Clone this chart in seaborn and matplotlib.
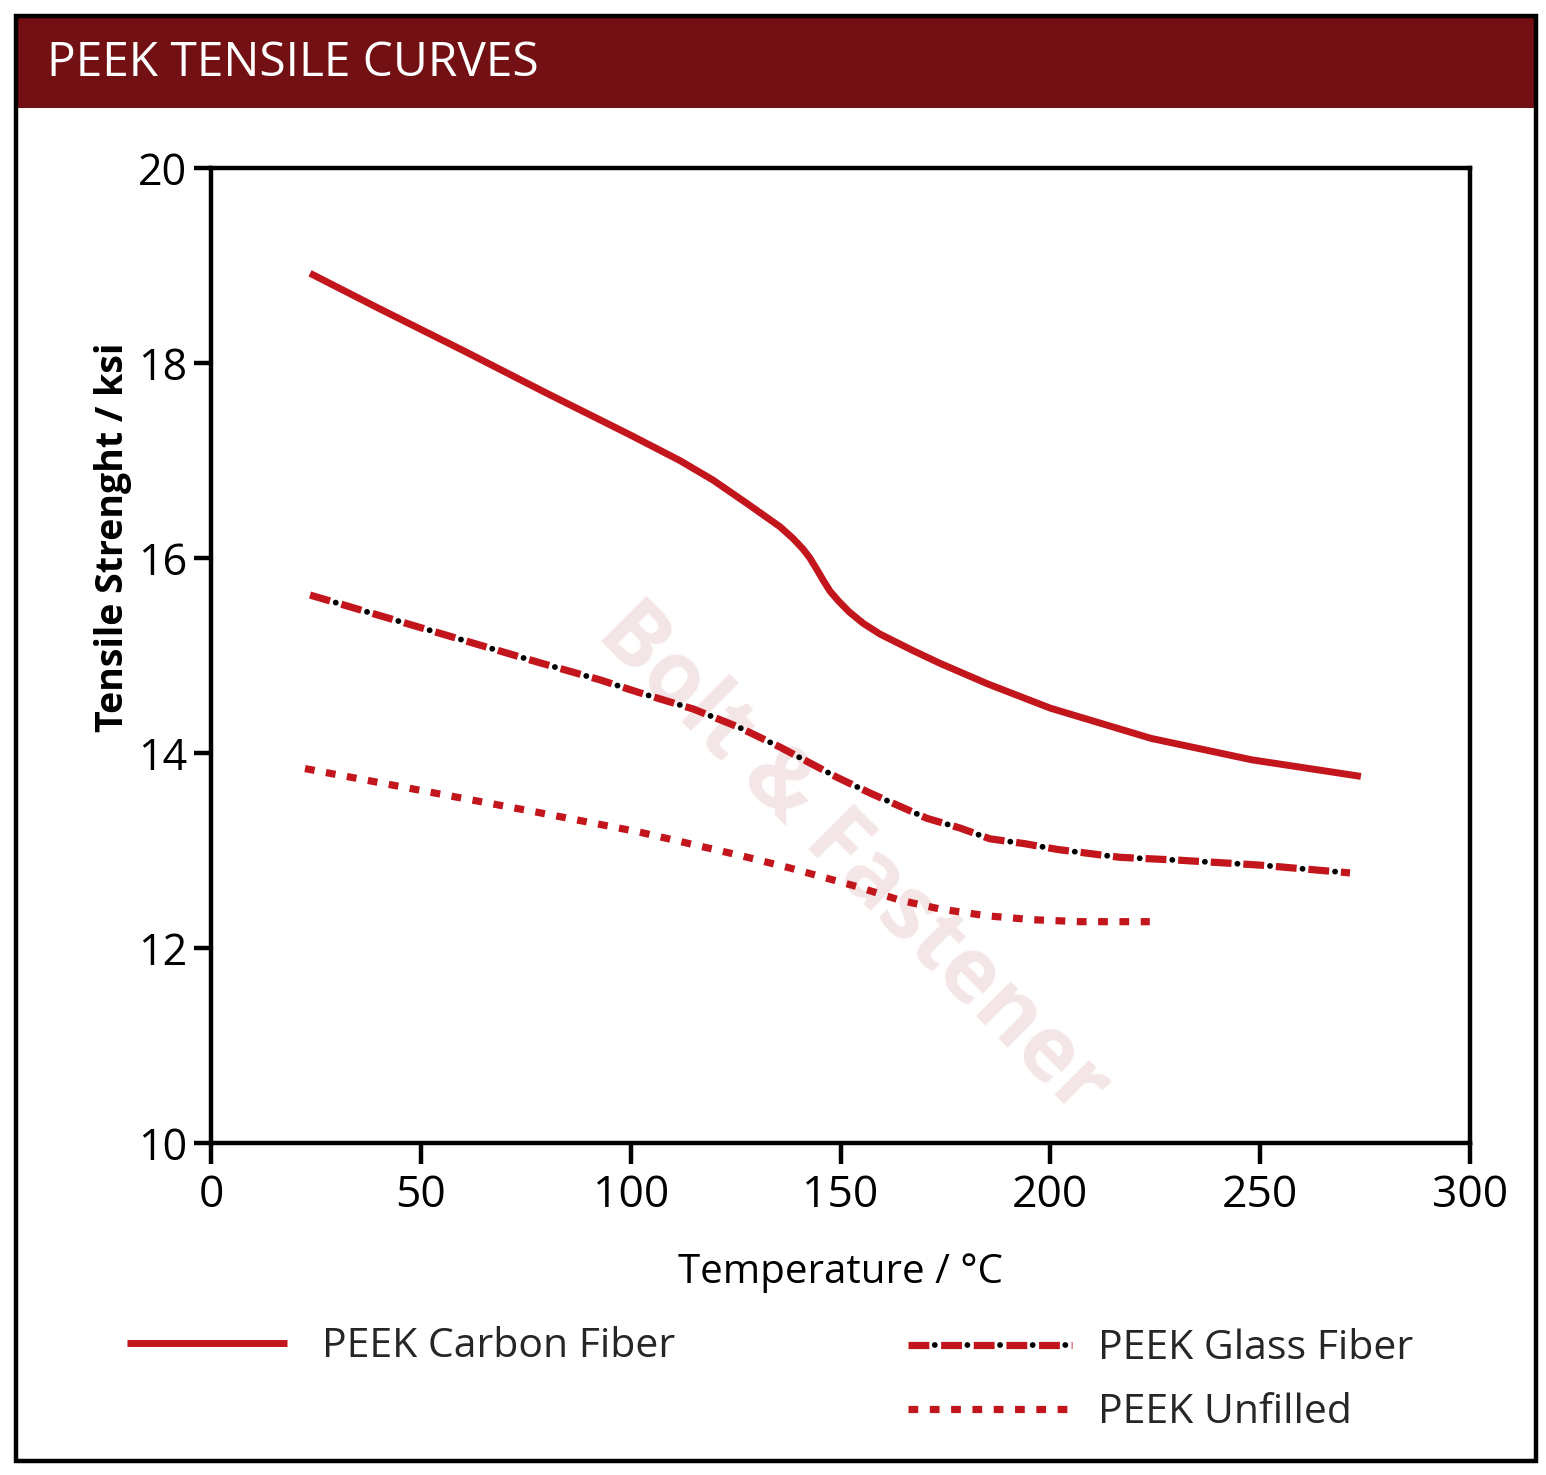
import matplotlib
matplotlib.use("Agg")
import matplotlib.pyplot as plt
from matplotlib.lines import Line2D
from matplotlib.patches import Rectangle
import seaborn as sns
import pandas as pd

# ---------------- data ----------------
temp_carbon = [23.6, 40, 60, 80, 100, 111.7, 119.6, 127.7, 135.6, 138.7, 141.1, 142.7,
               144.4, 145.9, 147.5, 149.5, 152.0, 155.4, 159.4, 167.3, 173.7, 185, 200,
               224, 248, 274]
ksi_carbon = [18.92, 18.56, 18.13, 17.69, 17.26, 17.00, 16.80, 16.56, 16.32, 16.20, 16.09, 16.00,
              15.88, 15.77, 15.66, 15.56, 15.45, 15.33, 15.22, 15.05, 14.92, 14.71, 14.46,
              14.15, 13.93, 13.76]

temp_glass = [23.6, 52, 78, 92.7, 102, 115, 126, 135.6, 149.2, 157.0, 170.6, 178.5,
              185.6, 193.9, 201.8, 216.6, 230.9, 250, 271.4]
ksi_glass = [15.62, 15.26, 14.93, 14.75, 14.62, 14.45, 14.26, 14.06, 13.75, 13.59, 13.33, 13.23,
             13.12, 13.07, 13.01, 12.93, 12.90, 12.85, 12.77]

temp_unfilled = [22.4, 52, 78, 102, 126, 138.0, 153.9, 164.2, 173.7, 184.9, 195.9, 207.1, 223.7]
ksi_unfilled = [13.84, 13.60, 13.39, 13.19, 12.95, 12.82, 12.63, 12.49, 12.40, 12.33, 12.29, 12.27, 12.27]

series_labels = ["PEEK Carbon Fiber", "PEEK Glass Fiber", "PEEK Unfilled"]
x_ticks = [0, 50, 100, 150, 200, 250, 300]
y_ticks = [10, 12, 14, 16, 18, 20]
title_text = "PEEK TENSILE CURVES"
x_label = "Temperature / \u00b0C"
y_label = "Tensile Strenght / ksi"
watermark = "Bolt & Fastener"

# ---------------- style ----------------
sns.set_theme(style="white")
plt.rcParams["font.family"] = ["Open Sans", "DejaVu Sans"]

RED = "#c3161c"
W, H = 1546, 1475
fig = plt.figure(figsize=(W / 100, H / 100), dpi=100)
fig.patch.set_facecolor("white")

def fx(px):
    return px / W

def fy(py):
    return 1 - py / H

# frame and header band
fig.patches.append(Rectangle((fx(16), fy(1461)), fx(1536) - fx(16), fy(16) - fy(1461),
                             transform=fig.transFigure, fill=False, ec="black", lw=3.2, zorder=5))
fig.patches.append(Rectangle((fx(17), fy(108)), fx(1535) - fx(17), fy(17) - fy(108),
                             transform=fig.transFigure, fc="#731013", ec="none", zorder=4))
fig.text(fx(47), fy(63), title_text, color="white", fontsize=34.5, va="center", ha="left", zorder=6)

ax = fig.add_axes([fx(211), fy(1143), fx(1470) - fx(211), fy(168) - fy(1143)])

df_c = pd.DataFrame({"t": temp_carbon, "v": ksi_carbon})
df_g = pd.DataFrame({"t": temp_glass, "v": ksi_glass})
df_u = pd.DataFrame({"t": temp_unfilled, "v": ksi_unfilled})

LW_RED = 5.2
LW_DOT = 4.2
DASH_ON, DASH_OFF = 15.0, 8.5
PERIOD = DASH_ON + DASH_OFF
dash_red = (0, (DASH_ON / LW_RED, DASH_OFF / LW_RED))
dot_black = ((PERIOD - (DASH_ON + DASH_OFF / 2)) / LW_DOT, (0.01, PERIOD / LW_DOT - 0.01))
dot_red = (0, (1.35, 1.6))

sns.lineplot(data=df_c, x="t", y="v", ax=ax, color=RED, lw=5, errorbar=None,
             solid_capstyle="butt", solid_joinstyle="round", zorder=3)
sns.lineplot(data=df_g, x="t", y="v", ax=ax, color=RED, lw=LW_RED, errorbar=None,
             linestyle=dash_red, dash_capstyle="butt", zorder=3)
sns.lineplot(data=df_g, x="t", y="v", ax=ax, color="black", lw=LW_DOT, errorbar=None,
             linestyle=dot_black, dash_capstyle="round", zorder=4)
sns.lineplot(data=df_u, x="t", y="v", ax=ax, color=RED, lw=LW_RED, errorbar=None,
             linestyle=dot_red, dash_capstyle="butt", zorder=3)

ax.set_xlim(0, 300)
ax.set_ylim(10, 20)
ax.set_xticks(x_ticks)
ax.set_yticks(y_ticks)
ax.set_xticklabels([str(v) for v in x_ticks], fontsize=32)
ax.set_yticklabels([str(v) for v in y_ticks], fontsize=31)
ax.tick_params(axis="both", which="major", direction="out", width=3.2, color="black",
               labelcolor="black", bottom=True, left=True)
ax.tick_params(axis="x", length=15, pad=7)
ax.tick_params(axis="y", length=12, pad=5)
for s in ax.spines.values():
    s.set_visible(True)
    s.set_color("black")
    s.set_linewidth(3.2)
ax.grid(False)
ax.set_xlabel(x_label, fontsize=29, color="black", labelpad=25)
ax.set_ylabel(y_label, fontsize=27, fontweight="bold", color="black")
ax.yaxis.set_label_coords((132 - 211) / 1259, (1143 - 537) / 975)

# faint watermark behind curves
ax.text(fx(852), fy(860), watermark, transform=fig.transFigure, rotation=-45,
        ha="center", va="center", fontsize=64, fontweight="bold", color="#f4e6e6", zorder=0)

# legends
h_c = Line2D([], [], color=RED, lw=5, solid_capstyle="butt")
h_g_red = Line2D([], [], color=RED, lw=LW_RED, linestyle=dash_red, dash_capstyle="butt")
h_g_dot = Line2D([], [], color="black", lw=LW_DOT, linestyle=dot_black, dash_capstyle="round")
h_u = Line2D([], [], color=RED, lw=LW_RED, linestyle=dot_red, dash_capstyle="butt")

LEG_FS = 29.5
leg1 = ax.legend([h_c], [series_labels[0]], loc="center left",
                 bbox_to_anchor=(fx(127), fy(1347)), bbox_transform=fig.transFigure,
                 frameon=False, fontsize=LEG_FS, handlelength=160 / 41, handletextpad=35 / 41,
                 borderpad=0, borderaxespad=0)
ax.add_artist(leg1)
ax.legend([(h_g_red, h_g_dot), h_u], series_labels[1:], loc="center left",
          bbox_to_anchor=(fx(908), fy(1381)), bbox_transform=fig.transFigure,
          frameon=False, fontsize=LEG_FS, handlelength=164 / 41, handletextpad=26 / 41,
          borderpad=0, borderaxespad=0, labelspacing=0.58)

fig.savefig("out.png", dpi=100, facecolor="white")
